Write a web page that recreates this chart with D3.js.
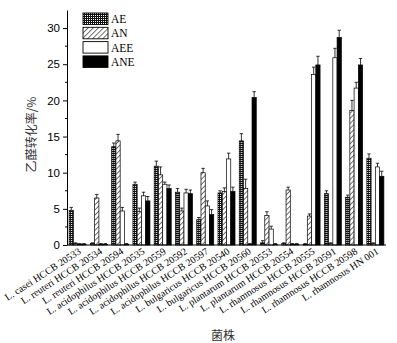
<!DOCTYPE html>
<html lang="zh">
<head>
<meta charset="UTF-8">
<title>乙醛转化率</title>
<script src="https://d3js.org/d3.v7.min.js"></script>
<style>
  body { margin: 0; background: #fff; }
</style>
</head>
<body>
<div class="chart"></div>
<script>
// 菌株
const strains = [
  'L. casei HCCB 20533', 'L. reuteri HCCB 20534', 'L. reuteri HCCB 20594',
  'L. acidophilus HCCB 20535', 'L. acidophilus HCCB 20559', 'L. acidophilus HCCB 20592',
  'L. acidophilus HCCB 20597', 'L. bulgaricus HCCB 20540', 'L. bulgaricus HCCB 20560',
  'L. plantarum HCCB 20553', 'L. plantarum HCCB 20554', 'L. rhamnosus HCCB 20555',
  'L. rhamnosus HCCB 20591', 'L. rhamnosus HCCB 20598', 'L. rhamnosus HN 001'
];
const seriesNames = ['AE', 'AN', 'AEE', 'ANE'];

// 转化率 (%)
const AE  = [4.8, 0.2, 13.6, 8.4, 10.9, 7.3, 3.5, 7.2, 14.4, 0.3, 0.2, 0.1, 7.1, 6.6, 12.0];
const AN  = [0.2, 6.5, 14.4, 4.6, 9.7, 4.7, 10.0, 7.4, 7.8, 4.1, 7.6, 4.0, 0.2, 18.6, 0.2];
const AEE = [0.1, 0.1, 4.7, 6.8, 8.4, 7.2, 5.4, 11.9, 0.1, 2.2, 0.1, 23.6, 25.9, 21.7, 10.8];
const ANE = [0.1, 0.1, 0.1, 6.1, 7.8, 7.1, 4.2, 7.4, 20.4, 0.1, 0.1, 24.9, 28.7, 24.9, 9.5];

// 误差
const AEerr  = [0.4, 0.1, 0.5, 0.3, 0.7, 0.5, 0.3, 0.3, 1.0, 0.3, 0.1, 0.1, 0.4, 0.3, 0.6];
const ANerr  = [0.1, 0.5, 0.9, 0.5, 1.1, 0.4, 0.6, 0.5, 1.3, 0.5, 0.4, 0.3, 0.1, 1.4, 0.1];
const AEEerr = [0.1, 0.1, 0.5, 0.5, 0.3, 0.5, 0.7, 0.8, 0.1, 0.4, 0.1, 1.0, 1.3, 0.8, 0.5];
const ANEerr = [0.1, 0.1, 0.1, 0.6, 0.5, 0.5, 0.7, 0.6, 0.8, 0.1, 0.1, 1.2, 1.0, 0.9, 0.7];

const yTicks = [0, 5, 10, 15, 20, 25, 30];

const values = [AE, AN, AEE, ANE];
const errors = [AEerr, ANerr, AEEerr, ANEerr];

const width = 397, height = 343;
const plotLeft = 67, plotRight = 386, plotTop = 10, plotBottom = 245;

const svg = d3.select('.chart').append('svg')
  .attr('width', width)
  .attr('height', height)
  .style('font-family', '"Liberation Serif", "Times New Roman", serif');

// 填充图案
const defs = svg.append('defs');
const pAE = defs.append('pattern').attr('id', 'pAE')
  .attr('patternUnits', 'userSpaceOnUse').attr('width', 2).attr('height', 2);
pAE.append('rect').attr('width', 2).attr('height', 2).attr('fill', '#111');
pAE.append('rect').attr('width', 1).attr('height', 1).attr('fill', '#fff');

const pAN = defs.append('pattern').attr('id', 'pAN')
  .attr('patternUnits', 'userSpaceOnUse').attr('width', 3.6).attr('height', 3.6)
  .attr('patternTransform', 'rotate(45)');
pAN.append('rect').attr('width', 3.6).attr('height', 3.6).attr('fill', '#fff');
pAN.append('line').attr('x1', 0).attr('y1', 0).attr('x2', 0).attr('y2', 3.6)
  .attr('stroke', '#000').attr('stroke-width', 1.1);

const fills = ['url(#pAE)', 'url(#pAN)', '#fff', '#000'];

// 比例尺
const x0 = d3.scaleBand().domain(strains).range([plotLeft, plotRight])
  .paddingInner(0.2).paddingOuter(0.1);
const x1 = d3.scaleBand().domain(seriesNames).range([0, x0.bandwidth()]);
const y = d3.scaleLinear().domain([0, 32.5]).range([plotBottom, plotTop]);

// 柱子
const groups = svg.append('g').selectAll('g')
  .data(strains)
  .join('g')
  .attr('transform', d => `translate(${x0(d)},0)`);

groups.each(function(s, i) {
  const g = d3.select(this);
  seriesNames.forEach((name, k) => {
    const v = values[k][i], e = errors[k][i];
    const bx = x1(name), bw = x1.bandwidth();
    g.append('rect')
      .attr('x', bx).attr('y', y(v))
      .attr('width', bw).attr('height', y(0) - y(v))
      .attr('fill', fills[k])
      .attr('stroke', '#000').attr('stroke-width', 0.7);
    const cx = bx + bw / 2;
    g.append('line')
      .attr('x1', cx).attr('x2', cx)
      .attr('y1', y(v)).attr('y2', y(v + e))
      .attr('stroke', '#000').attr('stroke-width', 0.8);
    g.append('line')
      .attr('x1', cx - 1.7).attr('x2', cx + 1.7)
      .attr('y1', y(v + e)).attr('y2', y(v + e))
      .attr('stroke', '#000').attr('stroke-width', 0.8);
  });
});

// Y 轴
const yAxis = d3.axisLeft(y).tickValues(yTicks).tickSize(4).tickSizeOuter(0);
const yg = svg.append('g').attr('transform', `translate(${plotLeft},0)`).call(yAxis);
yg.selectAll('text').style('font-size', '11.5px').attr('fill', '#000');
// 次刻度
svg.append('g').selectAll('line')
  .data(d3.range(2.5, 32.5, 5))
  .join('line')
  .attr('x1', plotLeft - 2).attr('x2', plotLeft)
  .attr('y1', d => y(d)).attr('y2', d => y(d))
  .attr('stroke', '#000');

// X 轴
svg.append('line')
  .attr('x1', plotLeft).attr('x2', plotRight)
  .attr('y1', plotBottom).attr('y2', plotBottom)
  .attr('stroke', '#000').attr('stroke-width', 1);

svg.append('g').selectAll('text')
  .data(strains)
  .join('text')
  .attr('transform', d => `translate(${x0(d) + x0.bandwidth() / 2 + 4},${plotBottom + 8}) rotate(-33)`)
  .attr('text-anchor', 'end')
  .style('font-size', '10px')
  .text(d => d);

// 轴标题
svg.append('text')
  .attr('transform', `translate(36,${(97 + 172) / 2}) rotate(-90)`)
  .attr('text-anchor', 'middle')
  .style('font-family', '"Noto Sans CJK SC", sans-serif')
  .style('font-size', '12px')
  .attr('fill', '#333')
  .text('乙醛转化率/%');

svg.append('text')
  .attr('x', 223).attr('y', 340)
  .attr('text-anchor', 'middle')
  .style('font-family', '"Noto Sans CJK SC", sans-serif')
  .style('font-size', '12px')
  .attr('fill', '#333')
  .text('菌株');

// 图例
const legend = svg.append('g').attr('transform', 'translate(83,13)');
seriesNames.forEach((name, k) => {
  const row = legend.append('g').attr('transform', `translate(0,${k * 14.3})`);
  row.append('rect')
    .attr('width', 25).attr('height', 11.5)
    .attr('fill', fills[k])
    .attr('stroke', '#000').attr('stroke-width', 0.9);
  row.append('text')
    .attr('x', 28).attr('y', 10)
    .style('font-size', '11.5px')
    .text(name);
});
</script>
</body>
</html>
